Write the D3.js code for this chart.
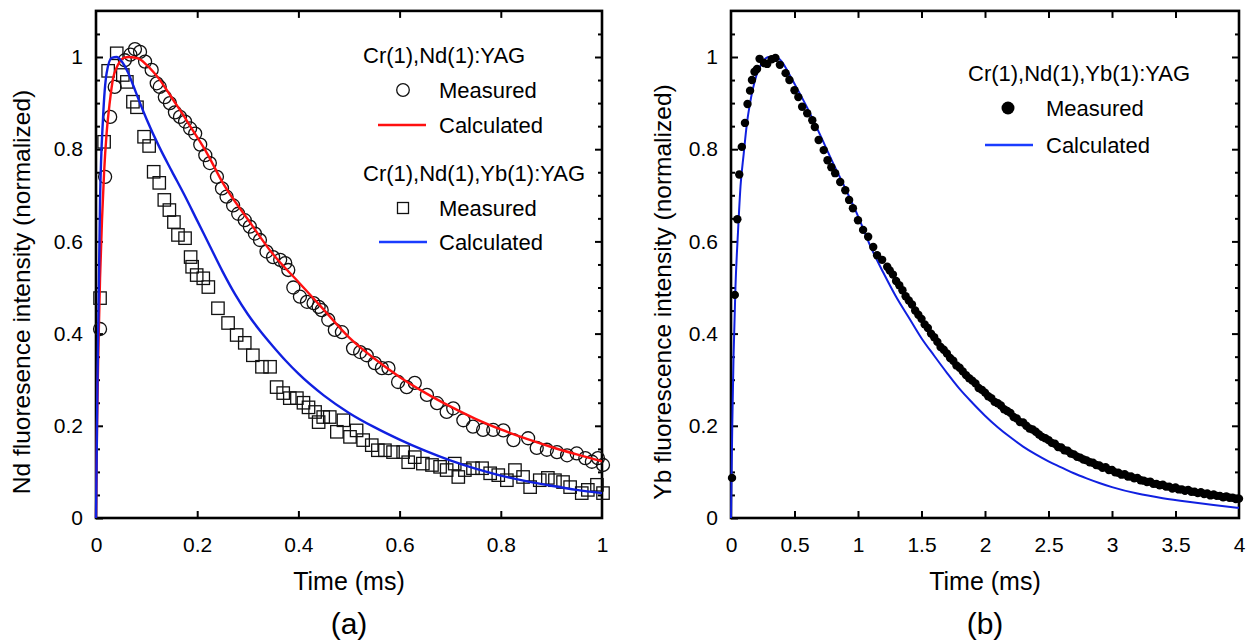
<!DOCTYPE html>
<html><head><meta charset="utf-8">
<script src="https://cdn.jsdelivr.net/npm/d3@7"></script>
<style>
body{margin:0;background:#fff}
svg{display:block}
text{font-family:"Liberation Sans",Arial,Helvetica,sans-serif;fill:#000}
</style>
</head><body>
<svg id="c" width="1251" height="644"></svg>
<script>
// ---------- tick labels ----------
const leftXTicks = [0, 0.2, 0.4, 0.6, 0.8, 1];
const rightXTicks = [0, 0.5, 1, 1.5, 2, 2.5, 3, 3.5, 4];
const yTicks = [0, 0.2, 0.4, 0.6, 0.8, 1];
const yMinorTicks = [0.05,0.1,0.15,0.25,0.3,0.35,0.45,0.5,0.55,0.65,0.7,0.75,0.85,0.9,0.95,1.05];

// ---------- (a) Cr(1),Nd(1):YAG ----------
const ndMeasured = [[0.008,0.41],[0.018,0.74],[0.028,0.87],[0.037,0.935],[0.057,0.993],[0.068,1.005],[0.077,1.017],[0.087,1.011],[0.097,0.99],[0.11,0.972],[0.12,0.943],[0.126,0.935],[0.136,0.913],[0.146,0.9],[0.156,0.88],[0.166,0.87],[0.176,0.86],[0.186,0.845],[0.196,0.834],[0.206,0.81],[0.216,0.787],[0.225,0.77],[0.239,0.74],[0.249,0.715],[0.258,0.697],[0.271,0.678],[0.281,0.66],[0.294,0.646],[0.304,0.632],[0.314,0.617],[0.324,0.603],[0.337,0.578],[0.35,0.566],[0.364,0.56],[0.374,0.553],[0.38,0.538],[0.39,0.5],[0.403,0.48],[0.417,0.469],[0.43,0.466],[0.44,0.458],[0.446,0.451],[0.459,0.43],[0.472,0.408],[0.486,0.403],[0.508,0.368],[0.522,0.36],[0.535,0.353],[0.551,0.336],[0.565,0.325],[0.578,0.325],[0.597,0.295],[0.614,0.284],[0.63,0.293],[0.654,0.267],[0.674,0.249],[0.693,0.23],[0.706,0.238],[0.726,0.212],[0.745,0.198],[0.765,0.191],[0.785,0.191],[0.805,0.19],[0.825,0.169],[0.854,0.173],[0.871,0.152],[0.891,0.148],[0.911,0.143],[0.931,0.136],[0.95,0.14],[0.967,0.13],[0.98,0.122],[0.992,0.13],[1.002,0.115]];
const ndCalc = [[0,0],[0.002,0.2],[0.005,0.38],[0.008,0.52],[0.012,0.65],[0.016,0.75],[0.021,0.835],[0.027,0.9],[0.034,0.955],[0.04,0.975],[0.047,0.99],[0.055,0.998],[0.065,1.0],[0.075,0.999],[0.087,0.995],[0.1,0.983],[0.113,0.968],[0.125,0.952],[0.14,0.928],[0.155,0.903],[0.172,0.875],[0.19,0.843],[0.2,0.826],[0.22,0.79],[0.25,0.728],[0.3,0.648],[0.35,0.572],[0.4,0.512],[0.45,0.452],[0.5,0.392],[0.55,0.346],[0.6,0.306],[0.65,0.272],[0.7,0.242],[0.75,0.215],[0.8,0.192],[0.85,0.172],[0.9,0.154],[0.95,0.138],[1.0,0.123]];

// ---------- (a) Cr(1),Nd(1),Yb(1):YAG ----------
const ndYbMeasured = [[0.008,0.477],[0.016,0.816],[0.024,0.97],[0.041,1.008],[0.053,0.961],[0.061,0.946],[0.073,0.903],[0.081,0.891],[0.095,0.827],[0.105,0.807],[0.114,0.751],[0.125,0.727],[0.135,0.69],[0.145,0.668],[0.154,0.642],[0.162,0.614],[0.176,0.607],[0.187,0.566],[0.19,0.545],[0.199,0.527],[0.212,0.52],[0.222,0.501],[0.241,0.455],[0.261,0.423],[0.278,0.397],[0.294,0.38],[0.31,0.353],[0.328,0.328],[0.344,0.328],[0.357,0.284],[0.37,0.271],[0.383,0.26],[0.397,0.26],[0.41,0.25],[0.42,0.24],[0.433,0.23],[0.44,0.208],[0.449,0.219],[0.462,0.219],[0.476,0.187],[0.489,0.212],[0.502,0.176],[0.515,0.19],[0.528,0.169],[0.545,0.158],[0.557,0.147],[0.571,0.147],[0.587,0.143],[0.607,0.143],[0.617,0.121],[0.63,0.132],[0.646,0.118],[0.664,0.115],[0.68,0.111],[0.693,0.104],[0.709,0.118],[0.716,0.089],[0.729,0.104],[0.745,0.108],[0.763,0.108],[0.779,0.097],[0.795,0.093],[0.812,0.082],[0.828,0.104],[0.844,0.089],[0.858,0.067],[0.877,0.082],[0.893,0.087],[0.907,0.082],[0.923,0.078],[0.937,0.067],[0.96,0.054],[0.972,0.061],[0.99,0.072],[1.002,0.054]];
const ndYbCalc = [[0,0],[0.003,0.3],[0.008,0.69],[0.014,0.87],[0.021,0.965],[0.031,0.998],[0.041,1.0],[0.051,0.99],[0.064,0.965],[0.074,0.937],[0.087,0.9],[0.1,0.865],[0.125,0.805],[0.15,0.752],[0.175,0.7],[0.2,0.645],[0.225,0.59],[0.25,0.535],[0.275,0.485],[0.3,0.442],[0.325,0.405],[0.35,0.372],[0.375,0.341],[0.4,0.313],[0.45,0.266],[0.5,0.228],[0.55,0.197],[0.6,0.17],[0.65,0.146],[0.7,0.125],[0.75,0.107],[0.8,0.092],[0.85,0.08],[0.9,0.07],[0.95,0.061],[1.0,0.054]];

// ---------- (b) Yb fluorescence ----------
const ybMeasured = [[0.008,0.087],[0.03,0.484],[0.05,0.648],[0.065,0.745],[0.085,0.805],[0.11,0.857],[0.13,0.898],[0.15,0.927],[0.165,0.95],[0.185,0.968],[0.205,0.974],[0.225,0.996],[0.26,0.987],[0.285,0.985],[0.32,0.995],[0.35,0.998],[0.385,0.983],[0.43,0.965],[0.46,0.95],[0.5,0.928],[0.53,0.913],[0.56,0.892],[0.6,0.878],[0.64,0.863],[0.66,0.848],[0.69,0.82],[0.73,0.798],[0.76,0.776],[0.79,0.761],[0.82,0.748],[0.86,0.729],[0.9,0.711],[0.93,0.69],[0.96,0.672],[1.0,0.646],[1.04,0.625],[1.08,0.61],[1.12,0.588],[1.15,0.57],[1.19,0.56],[1.23,0.545],
[1.25,0.537],[1.275,0.528],[1.3,0.514],[1.325,0.505],[1.35,0.494],[1.375,0.481],[1.4,0.472],[1.425,0.463],[1.45,0.45],[1.475,0.441],[1.5,0.432],[1.525,0.42],[1.55,0.412],[1.575,0.4],[1.6,0.392],[1.625,0.382],[1.65,0.371],[1.675,0.365],[1.7,0.357],[1.725,0.347],[1.75,0.341],[1.775,0.331],[1.8,0.326],[1.825,0.318],[1.85,0.31],[1.875,0.303],[1.9,0.298],[1.925,0.292],[1.95,0.282],[1.975,0.278],[2.0,0.272],[2.025,0.264],[2.05,0.26],[2.075,0.252],[2.1,0.249],[2.125,0.244],[2.15,0.236],[2.175,0.232],[2.2,0.228],[2.225,0.219],[2.25,0.216],[2.275,0.208],[2.3,0.207],[2.325,0.2],[2.35,0.194],[2.375,0.192],[2.4,0.187],[2.425,0.181],[2.45,0.176],[2.475,0.173],[2.5,0.169],[2.525,0.163],[2.55,0.161],[2.575,0.154],[2.6,0.153],[2.625,0.147],[2.65,0.146],[2.675,0.14],[2.7,0.138],[2.725,0.133],[2.75,0.131],[2.775,0.127],[2.8,0.125],[2.825,0.121],[2.85,0.12],[2.875,0.115],[2.9,0.114],[2.925,0.109],[2.95,0.11],[2.975,0.104],[3.0,0.104],[3.025,0.099],[3.05,0.098],[3.075,0.094],[3.1,0.095],[3.125,0.09],[3.15,0.09],[3.175,0.086],[3.2,0.087],[3.225,0.082],[3.25,0.081],[3.275,0.078],[3.3,0.079],[3.325,0.074],[3.35,0.074],[3.375,0.071],[3.4,0.072],[3.425,0.068],[3.45,0.068],[3.475,0.064],[3.5,0.066],[3.525,0.062],[3.55,0.062],[3.575,0.059],[3.6,0.061],[3.625,0.057],[3.65,0.057],[3.675,0.054],[3.7,0.056],[3.725,0.052],[3.75,0.053],[3.775,0.049],[3.8,0.051],[3.825,0.048],[3.85,0.048],[3.875,0.045],[3.9,0.047],[3.925,0.044],[3.95,0.044],[3.975,0.041],[4.0,0.042]];
const ybCalc = [[0,0],[0.01,0.2],[0.02,0.35],[0.035,0.5],[0.055,0.62],[0.075,0.72],[0.1,0.79],[0.125,0.855],[0.15,0.9],[0.2,0.96],[0.25,0.99],[0.3,1.0],[0.35,1.0],[0.4,0.99],[0.45,0.967],[0.5,0.942],[0.6,0.89],[0.7,0.832],[0.8,0.772],[0.9,0.715],[1.0,0.655],[1.1,0.588],[1.2,0.532],[1.3,0.48],[1.4,0.435],[1.5,0.39],[1.6,0.352],[1.7,0.315],[1.8,0.28],[1.9,0.25],[2.0,0.222],[2.1,0.197],[2.2,0.175],[2.3,0.155],[2.4,0.138],[2.5,0.123],[2.6,0.11],[2.7,0.097],[2.8,0.086],[2.9,0.076],[3.0,0.067],[3.2,0.053],[3.4,0.043],[3.6,0.035],[3.8,0.028],[4.0,0.022]];

const RED = "#ff1010", BLUE = "#1020e0", LEGBLUE = "#1a3cff";
const svg = d3.select("#c");

function panel(o) {
  const x = d3.scaleLinear().domain(o.xDomain).range([o.left, o.right]);
  const y = d3.scaleLinear().domain([0, 1]).range([o.bottom, o.bottom - 461]);
  const top = y(1.1);
  const g = svg.append("g");
  const tickStyle = sel => { sel.select(".domain").remove(); sel.selectAll("line").attr("stroke","#000").attr("stroke-width",2); sel.selectAll("text").style("font-size","21px").attr("fill","#000"); };
  const inner = o.xTicks.filter(v => v > o.xDomain[0] && v < o.xDomain[1]);
  g.append("g").attr("transform",`translate(0,${o.bottom})`)
    .call(d3.axisBottom(x).tickValues(o.xTicks).tickSizeInner(-7).tickSizeOuter(0).tickPadding(19).tickFormat(d=>String(d)))
    .call(tickStyle)
    .call(s => s.selectAll(".tick").filter(d => d===o.xDomain[0]||d===o.xDomain[1]).select("line").remove());
  g.append("g").attr("transform",`translate(0,${top})`)
    .call(d3.axisTop(x).tickValues(inner).tickSizeInner(-7).tickSizeOuter(0).tickFormat(""))
    .call(tickStyle);
  g.append("g").attr("transform",`translate(${o.left},0)`)
    .call(d3.axisLeft(y).tickValues(yTicks).tickSizeInner(-7).tickSizeOuter(0).tickPadding(13).tickFormat(d=>String(d)))
    .call(tickStyle);
  g.append("g").attr("transform",`translate(${o.left},0)`)
    .call(d3.axisLeft(y).tickValues(yMinorTicks).tickSizeInner(-4).tickSizeOuter(0).tickFormat(""))
    .call(tickStyle);
  g.append("g").attr("transform",`translate(${o.right},0)`)
    .call(d3.axisRight(y).tickValues(yTicks.filter(v=>v>0)).tickSizeInner(-7).tickSizeOuter(0).tickFormat(""))
    .call(tickStyle);
  g.append("g").attr("transform",`translate(${o.right},0)`)
    .call(d3.axisRight(y).tickValues(yMinorTicks).tickSizeInner(-4).tickSizeOuter(0).tickFormat(""))
    .call(tickStyle);
  g.append("rect").attr("x",o.left).attr("y",top).attr("width",o.right-o.left).attr("height",o.bottom-top)
    .attr("fill","none").attr("stroke","#000").attr("stroke-width",2.6);
  const cx = (o.left+o.right)/2;
  g.append("text").attr("x",cx).attr("y",590).attr("text-anchor","middle").style("font-size","25px").text("Time (ms)");
  g.append("text").attr("x",cx).attr("y",634).attr("text-anchor","middle").style("font-size","30px").text(o.tag);
  g.append("text").attr("transform",`translate(${o.ylx},${292}) rotate(-90)`).attr("text-anchor","middle")
    .attr("dominant-baseline","central").style("font-size","24.5px").text(o.ylabel);
  return {g, x, y};
}

// ---------- panel (a) ----------
const A = panel({left:96, right:602, bottom:518, xDomain:[0,1], xTicks:leftXTicks, tag:"(a)", ylx:21,
  ylabel:"Nd fluoresence intensity (normalized)"});
const lineA = d3.line().x(d=>A.x(d[0])).y(d=>A.y(d[1])).curve(d3.curveMonotoneX);
A.g.append("g").selectAll("rect").data(ndYbMeasured).join("rect")
  .attr("x",d=>A.x(d[0])-6.2).attr("y",d=>A.y(d[1])-6.2).attr("width",12.4).attr("height",12.4)
  .attr("fill","none").attr("stroke","#111").attr("stroke-width",1.3);
A.g.append("g").selectAll("circle").data(ndMeasured).join("circle")
  .attr("cx",d=>A.x(d[0])).attr("cy",d=>A.y(d[1])).attr("r",6.5)
  .attr("fill","none").attr("stroke","#111").attr("stroke-width",1.3);
A.g.append("path").datum(ndCalc).attr("d",lineA).attr("fill","none").attr("stroke",RED).attr("stroke-width",2.4);
A.g.append("path").datum(ndYbCalc).attr("d",lineA).attr("fill","none").attr("stroke",BLUE).attr("stroke-width",2.4);

// legend (a)
const la = A.g.append("g").style("font-size","22px");
la.append("text").attr("x",363).attr("y",55).attr("dominant-baseline","central").text("Cr(1),Nd(1):YAG");
la.append("circle").attr("cx",403).attr("cy",90).attr("r",6.3).attr("fill","none").attr("stroke","#111").attr("stroke-width",1.3);
la.append("text").attr("x",439).attr("y",90).attr("dominant-baseline","central").text("Measured");
la.append("line").attr("x1",378).attr("x2",426).attr("y1",125).attr("y2",125).attr("stroke",RED).attr("stroke-width",2.6);
la.append("text").attr("x",439).attr("y",125).attr("dominant-baseline","central").text("Calculated");
la.append("text").attr("x",363).attr("y",173).attr("dominant-baseline","central").text("Cr(1),Nd(1),Yb(1):YAG");
la.append("rect").attr("x",397.5).attr("y",202.5).attr("width",11).attr("height",11).attr("fill","none").attr("stroke","#111").attr("stroke-width",1.3);
la.append("text").attr("x",439).attr("y",208).attr("dominant-baseline","central").text("Measured");
la.append("line").attr("x1",379).attr("x2",427).attr("y1",242).attr("y2",242).attr("stroke",LEGBLUE).attr("stroke-width",2.6);
la.append("text").attr("x",439).attr("y",242).attr("dominant-baseline","central").text("Calculated");

// ---------- panel (b) ----------
const B = panel({left:731, right:1239, bottom:518, xDomain:[0,4], xTicks:rightXTicks, tag:"(b)", ylx:662,
  ylabel:"Yb fluorescence intensity (normalized)"});
const lineB = d3.line().x(d=>B.x(d[0])).y(d=>B.y(d[1])).curve(d3.curveMonotoneX);
B.g.append("path").datum(ybCalc).attr("d",lineB).attr("fill","none").attr("stroke",BLUE).attr("stroke-width",2);
B.g.append("g").selectAll("circle").data(ybMeasured).join("circle")
  .attr("cx",d=>B.x(d[0])).attr("cy",d=>B.y(d[1])).attr("r",4.2).attr("fill","#000");

const lb = B.g.append("g").style("font-size","22px");
lb.append("text").attr("x",968).attr("y",73).attr("dominant-baseline","central").text("Cr(1),Nd(1),Yb(1):YAG");
lb.append("circle").attr("cx",1008).attr("cy",108).attr("r",6.5).attr("fill","#000");
lb.append("text").attr("x",1046).attr("y",108).attr("dominant-baseline","central").text("Measured");
lb.append("line").attr("x1",985).attr("x2",1033).attr("y1",145).attr("y2",145).attr("stroke",LEGBLUE).attr("stroke-width",2.6);
lb.append("text").attr("x",1046).attr("y",145).attr("dominant-baseline","central").text("Calculated");
</script>
</body></html>
